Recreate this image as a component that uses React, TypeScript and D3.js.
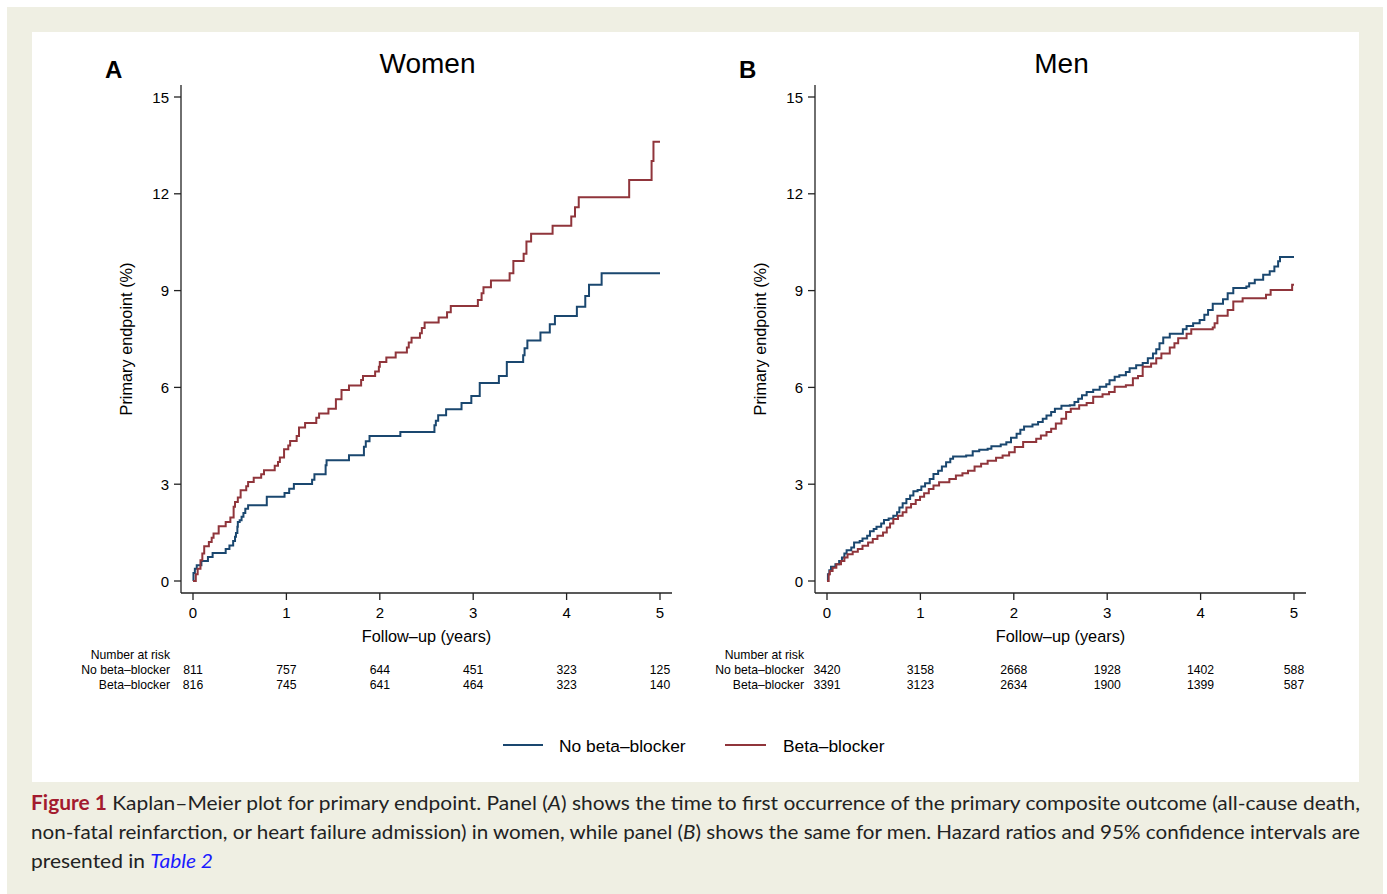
import React from "react";
import * as d3 from "d3";

// ---------- data ----------
const yearTicks = [0, 1, 2, 3, 4, 5];
const pctTicks = [0, 3, 6, 9, 12, 15];
const groups = ["No beta\u2013blocker", "Beta\u2013blocker"];

const womenNoBB: [number, number][] = [
  [0, 0], [0.005, 0.25], [0.02, 0.38], [0.04, 0.49], [0.09, 0.62], [0.16, 0.74], [0.21, 0.87],
  [0.35, 0.99], [0.39, 1.1], [0.43, 1.24], [0.45, 1.37], [0.46, 1.49], [0.475, 1.68], [0.48, 1.83],
  [0.5, 1.88], [0.52, 1.99], [0.54, 2.11], [0.56, 2.24], [0.59, 2.35], [0.79, 2.61], [0.98, 2.73],
  [1.03, 2.86], [1.08, 3.01], [1.275, 3.14], [1.3, 3.31], [1.42, 3.59], [1.43, 3.74], [1.67, 3.9],
  [1.83, 4.16], [1.85, 4.33], [1.89, 4.49], [2.22, 4.62], [2.585, 4.83], [2.6, 4.97], [2.625, 5.14],
  [2.71, 5.32], [2.875, 5.52], [2.98, 5.73], [3.07, 6.14], [3.275, 6.35], [3.36, 6.79], [3.535, 7.0],
  [3.55, 7.21], [3.58, 7.45], [3.72, 7.7], [3.82, 7.96], [3.875, 8.21], [4.11, 8.5], [4.2, 8.83],
  [4.24, 9.18], [4.375, 9.54], [5, 9.54],
];
const womenBB: [number, number][] = [
  [0, 0], [0.02, 0], [0.03, 0.21], [0.05, 0.38], [0.08, 0.64], [0.1, 0.85], [0.12, 1.08], [0.17, 1.21],
  [0.2, 1.34], [0.22, 1.47], [0.275, 1.7], [0.35, 1.83], [0.4, 1.97], [0.435, 2.3], [0.45, 2.45],
  [0.48, 2.59], [0.51, 2.81], [0.57, 2.94], [0.59, 3.07], [0.65, 3.2], [0.73, 3.31], [0.76, 3.43],
  [0.875, 3.57], [0.91, 3.69], [0.93, 3.83], [0.975, 4.08], [1.02, 4.2], [1.04, 4.34], [1.11, 4.49],
  [1.135, 4.76], [1.2, 4.9], [1.32, 5.06], [1.35, 5.19], [1.45, 5.34], [1.53, 5.63], [1.59, 5.92],
  [1.67, 6.06], [1.8, 6.23], [1.82, 6.35], [1.95, 6.49], [1.99, 6.64], [2.0, 6.79], [2.07, 6.93],
  [2.17, 7.08], [2.29, 7.24], [2.31, 7.39], [2.34, 7.54], [2.43, 7.68], [2.45, 7.84], [2.48, 8.01],
  [2.63, 8.17], [2.72, 8.33], [2.76, 8.52], [3.05, 8.71], [3.09, 8.92], [3.11, 9.1], [3.19, 9.31],
  [3.39, 9.54], [3.43, 9.92], [3.54, 10.14], [3.57, 10.52], [3.62, 10.76], [3.85, 11.01], [4.05, 11.3],
  [4.09, 11.58], [4.13, 11.89], [4.67, 12.43], [4.91, 13.02], [4.93, 13.61], [5, 13.61],
];
const menNoBB: [number, number][] = [
  [0, 0], [0.01, 0.21], [0.025, 0.33], [0.043, 0.44], [0.09, 0.52], [0.13, 0.62], [0.16, 0.73],
  [0.186, 0.85], [0.21, 0.95], [0.26, 1.04], [0.29, 1.19], [0.35, 1.24], [0.38, 1.32], [0.43, 1.4],
  [0.46, 1.54], [0.5, 1.61], [0.53, 1.68], [0.58, 1.78], [0.61, 1.89], [0.66, 1.94], [0.71, 2.02],
  [0.75, 2.13], [0.775, 2.28], [0.81, 2.41], [0.85, 2.54], [0.89, 2.65], [0.925, 2.78], [0.97, 2.82],
  [1.01, 2.93], [1.05, 3.03], [1.1, 3.16], [1.14, 3.32], [1.19, 3.42], [1.23, 3.55], [1.275, 3.68],
  [1.32, 3.79], [1.35, 3.86], [1.49, 3.89], [1.56, 4.02], [1.63, 4.07], [1.72, 4.1], [1.76, 4.18],
  [1.86, 4.23], [1.92, 4.3], [1.97, 4.44], [2.03, 4.56], [2.07, 4.69], [2.11, 4.79], [2.2, 4.85],
  [2.26, 4.93], [2.31, 5.03], [2.35, 5.13], [2.4, 5.24], [2.44, 5.34], [2.51, 5.43], [2.6, 5.45],
  [2.65, 5.55], [2.69, 5.65], [2.73, 5.76], [2.78, 5.86], [2.85, 5.93], [2.92, 6.02], [2.99, 6.1],
  [3.025, 6.22], [3.08, 6.33], [3.13, 6.38], [3.2, 6.48], [3.24, 6.59], [3.31, 6.69], [3.38, 6.76],
  [3.435, 6.9], [3.49, 7.05], [3.525, 7.18], [3.56, 7.37], [3.6, 7.55], [3.67, 7.66], [3.81, 7.8],
  [3.85, 7.9], [3.92, 7.99], [3.99, 8.09], [4.04, 8.25], [4.08, 8.4], [4.13, 8.59], [4.24, 8.73],
  [4.29, 8.92], [4.35, 9.08], [4.49, 9.13], [4.52, 9.23], [4.58, 9.34], [4.67, 9.49], [4.74, 9.6],
  [4.79, 9.75], [4.83, 9.91], [4.85, 10.04], [5, 10.04],
];
const menBB: [number, number][] = [
  [0, 0], [0.018, 0.21], [0.03, 0.31], [0.06, 0.41], [0.1, 0.52], [0.15, 0.62], [0.186, 0.73],
  [0.22, 0.83], [0.275, 0.91], [0.33, 0.99], [0.38, 1.09], [0.44, 1.19], [0.49, 1.3], [0.54, 1.4],
  [0.6, 1.5], [0.64, 1.66], [0.675, 1.78], [0.71, 1.92], [0.76, 2.02], [0.81, 2.13], [0.85, 2.28],
  [0.9, 2.39], [0.95, 2.51], [0.996, 2.61], [1.04, 2.72], [1.09, 2.85], [1.14, 2.96], [1.2, 3.06],
  [1.31, 3.16], [1.38, 3.27], [1.45, 3.34], [1.51, 3.42], [1.58, 3.55], [1.65, 3.63], [1.72, 3.73],
  [1.81, 3.82], [1.88, 3.89], [1.95, 3.99], [2.01, 4.15], [2.1, 4.31], [2.24, 4.41], [2.29, 4.51],
  [2.35, 4.62], [2.4, 4.72], [2.45, 4.88], [2.51, 5.03], [2.56, 5.24], [2.61, 5.34], [2.7, 5.45],
  [2.78, 5.52], [2.85, 5.71], [2.95, 5.79], [3.02, 5.86], [3.08, 6.02], [3.2, 6.07], [3.275, 6.28],
  [3.33, 6.35], [3.38, 6.64], [3.47, 6.74], [3.525, 6.9], [3.58, 7.05], [3.67, 7.24], [3.72, 7.37],
  [3.76, 7.52], [3.85, 7.66], [3.9, 7.8], [4.13, 7.86], [4.15, 7.99], [4.18, 8.22], [4.29, 8.4],
  [4.35, 8.66], [4.45, 8.76], [4.7, 8.87], [4.75, 9.02], [4.97, 9.02], [4.98, 9.18], [5, 9.18],
];

const womenRiskNoBB = [811, 757, 644, 451, 323, 125];
const womenRiskBB = [816, 745, 641, 464, 323, 140];
const menRiskNoBB = [3420, 3158, 2668, 1928, 1402, 588];
const menRiskBB = [3391, 3123, 2634, 1900, 1399, 587];

const colors = ["#1a476f", "#90353b"];
const FONT = "'Liberation Sans', Arial, Helvetica, sans-serif";
const CAP_FONT = "Lato, 'Open Sans', sans-serif";

type PanelProps = {
  letter: string;
  title: string;
  x0: number;
  noBB: [number, number][];
  bb: [number, number][];
  riskNoBB: number[];
  riskBB: number[];
};

function Panel({ letter, title, x0, noBB, bb, riskNoBB, riskBB }: PanelProps) {
  const x = d3.scaleLinear().domain([0, 5]).range([x0, x0 + 467]);
  const y = d3.scaleLinear().domain([0, 15]).range([581, 97]);
  const line = d3
    .line<[number, number]>()
    .x((d) => x(d[0]))
    .y((d) => y(d[1]))
    .curve(d3.curveStepAfter);
  const axX = x0 - 12;
  const axY = 593;
  const cx = (x(0) + x(5)) / 2;
  const lblRight = x0 - 23;
  return (
    <g fontFamily={FONT}>
      <text x={x0 - 88} y={78} fontSize={24} fontWeight="bold" fill="#000">{letter}</text>
      <text x={cx + 1} y={73} fontSize={28} textAnchor="middle" fill="#000">{title}</text>
      {/* axes */}
      <line x1={axX} x2={axX} y1={85} y2={axY} stroke="#222" strokeWidth={1.3} />
      <line x1={axX} x2={x0 + 479} y1={axY} y2={axY} stroke="#222" strokeWidth={1.3} />
      {pctTicks.map((t) => (
        <g key={"y" + t}>
          <line x1={axX - 7} x2={axX} y1={y(t)} y2={y(t)} stroke="#222" strokeWidth={1.3} />
          <text x={axX - 12} y={y(t) + 5.5} fontSize={15} textAnchor="end" fill="#000">{t}</text>
        </g>
      ))}
      {yearTicks.map((t) => (
        <g key={"x" + t}>
          <line x1={x(t)} x2={x(t)} y1={axY} y2={axY + 7} stroke="#222" strokeWidth={1.3} />
          <text x={x(t)} y={617.5} fontSize={15} textAnchor="middle" fill="#000">{t}</text>
        </g>
      ))}
      <text x={cx} y={642} fontSize={16.3} textAnchor="middle" fill="#000">Follow{"\u2013"}up (years)</text>
      <text
        transform={`translate(${x0 - 61},${y(7.5)}) rotate(-90)`}
        fontSize={16.3}
        textAnchor="middle"
        fill="#000"
      >
        Primary endpoint (%)
      </text>
      {/* curves */}
      <path d={line(noBB) || ""} fill="none" stroke={colors[0]} strokeWidth={2} />
      <path d={line(bb) || ""} fill="none" stroke={colors[1]} strokeWidth={2} />
      {/* number at risk */}
      <g fontSize={12.2} fill="#000">
        <text x={lblRight} y={659} textAnchor="end">Number at risk</text>
        <text x={lblRight} y={674} textAnchor="end">{groups[0]}</text>
        <text x={lblRight} y={689} textAnchor="end">{groups[1]}</text>
        {yearTicks.map((t, i) => (
          <g key={"r" + t}>
            <text x={x(t)} y={674} textAnchor="middle">{riskNoBB[i]}</text>
            <text x={x(t)} y={689} textAnchor="middle">{riskBB[i]}</text>
          </g>
        ))}
      </g>
    </g>
  );
}

export default function App() {
  const legendItems = [
    { x1: 503, x2: 543, tx: 559, label: groups[0], color: colors[0] },
    { x1: 725, x2: 766, tx: 783, label: groups[1], color: colors[1] },
  ];
  return (
    <svg
      width={1387}
      height={894}
      style={{ position: "absolute", left: 0, top: 0, display: "block" }}
    >
      <rect x={0} y={0} width={1387} height={894} fill="#ffffff" />
      <rect x={7} y={7} width={1376} height={887} fill="#efefe3" />
      <rect x={32} y={32} width={1327} height={750} fill="#ffffff" />
      <Panel letter="A" title="Women" x0={193} noBB={womenNoBB} bb={womenBB} riskNoBB={womenRiskNoBB} riskBB={womenRiskBB} />
      <Panel letter="B" title="Men" x0={827} noBB={menNoBB} bb={menBB} riskNoBB={menRiskNoBB} riskBB={menRiskBB} />
      {/* legend */}
      <g fontFamily={FONT}>
        {legendItems.map((d) => (
          <g key={d.label}>
            <line x1={d.x1} x2={d.x2} y1={745} y2={745} stroke={d.color} strokeWidth={2} />
            <text x={d.tx} y={751.5} fontSize={17.4} fill="#000">{d.label}</text>
          </g>
        ))}
      </g>
      {/* caption */}
      <g fontFamily={CAP_FONT} fontSize={20} fill="#222">
        <text x={31} y={810} textLength={1329} lengthAdjust="spacingAndGlyphs">
          <tspan fontWeight="bold" fill="#a31a2e">Figure 1</tspan>
          <tspan> Kaplan{"\u2013"}Meier plot for primary endpoint. Panel (</tspan>
          <tspan fontStyle="italic">A</tspan>
          <tspan>) shows the time to first occurrence of the primary composite outcome (all-cause death,</tspan>
        </text>
        <text x={31} y={839} textLength={1329} lengthAdjust="spacingAndGlyphs">
          <tspan>non-fatal reinfarction, or heart failure admission) in women, while panel (</tspan>
          <tspan fontStyle="italic">B</tspan>
          <tspan>) shows the same for men. Hazard ratios and 95% confidence intervals are</tspan>
        </text>
        <text x={31} y={868} textLength={182} lengthAdjust="spacingAndGlyphs">
          <tspan>presented in </tspan>
          <tspan fontStyle="italic" fill="#1a1aff">Table 2</tspan>
        </text>
      </g>
    </svg>
  );
}
